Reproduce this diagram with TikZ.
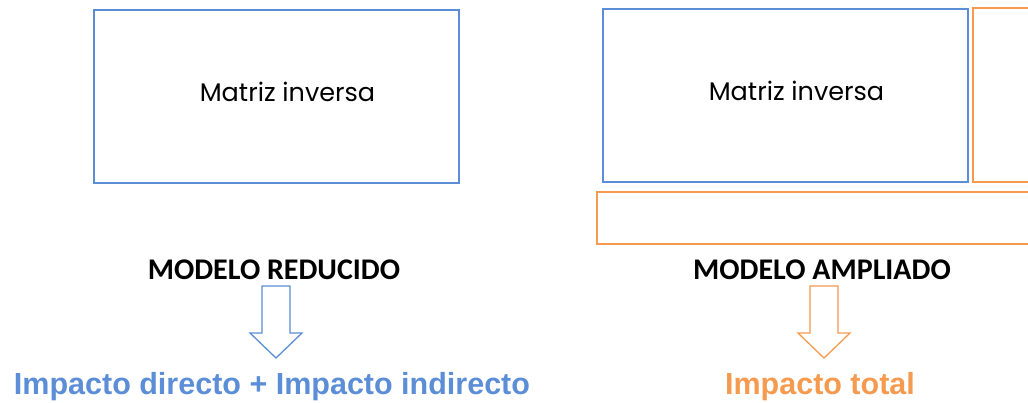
\documentclass[tikz,border=0pt]{standalone}
\usepackage{fontspec}
\usepackage{tikz}
\newfontfamily\gothic{Poppins}
\newfontfamily\carl{Carlito}
\newfontfamily\arialf{Liberation Sans}
\definecolor{mblue}{HTML}{5B8ED6}
\definecolor{morange}{HTML}{F59A4E}

\begin{document}
\begin{tikzpicture}[x=1pt, y=-1pt,
  box/.style={draw, line width=2.2pt, minimum width=365pt, minimum height=173pt, inner sep=0pt},
  matlabel/.style={text=black, font=\gothic\fontsize{25.5}{30}\selectfont, xshift=11pt, yshift=5pt},
  title/.style={font=\carl\bfseries\fontsize{30}{34}\selectfont},
  impact/.style={font=\arialf\bfseries\fontsize{30.5}{34}\selectfont}]
  \useasboundingbox (0,0) rectangle (1028,402);
  \node[box, mblue, label={[matlabel]center:Matriz inversa}] (mi1) at (276.5,96.5) {};
  \node[box, mblue, label={[matlabel]center:Matriz inversa}] (mi2) at (785.5,95.5) {};
  \draw[morange, line width=2.2pt] (1040,8) -- (973,8) -- (973,182) -- (1040,182);
  \draw[morange, line width=2.2pt] (1040,192) -- (597,192) -- (597,244) -- (1040,244);

  \node[title] (mr) at (274,270) {MODELO REDUCIDO};
  \node[title] (ma) at (822,270) {MODELO AMPLIADO};

  \draw[mblue, line width=1.3pt] (262,286) -- (290,286) -- (290,333) -- (302,333) -- (276,358) -- (250,333) -- (262,333) -- cycle;
  \draw[morange, line width=1.3pt] (810,286) -- (838,286) -- (838,333) -- (850,333) -- (824,358) -- (798,333) -- (810,333) -- cycle;

  \node[impact, mblue] (id) at (272,387) {Impacto directo + Impacto indirecto};
  \node[impact, morange] (it) at (820,387) {Impacto total};
\end{tikzpicture}
\end{document}
